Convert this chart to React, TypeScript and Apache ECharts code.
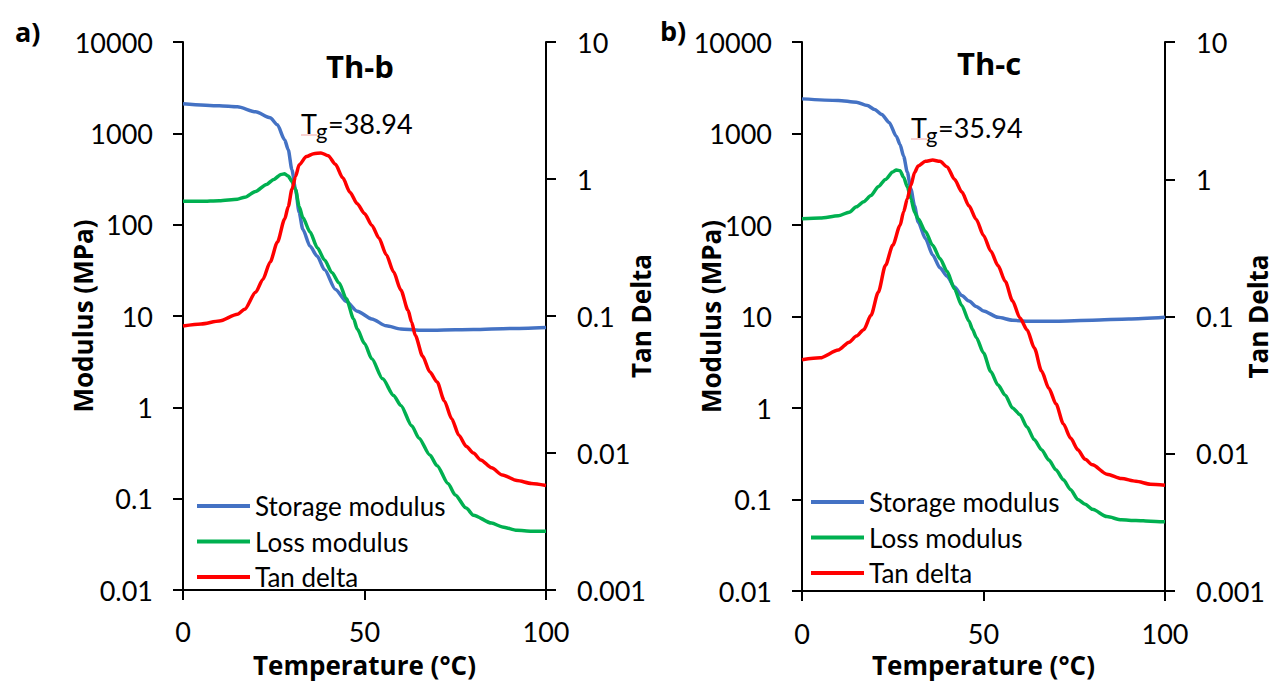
import React, { useEffect, useRef } from "react";
import * as echarts from "echarts";

// ---------- tick labels / names ----------
const modulusTicks = ["0.01", "0.1", "1", "10", "100", "1000", "10000"];
const tanTicks = ["0.001", "0.01", "0.1", "1", "10"];
const tempTicks = ["0", "50", "100"];
const seriesNames = ["Storage modulus", "Loss modulus", "Tan delta"];
const panelLabels = ["a)", "b)"];
const panelTitles = ["Th-b", "Th-c"];
const tgValues = ["=38.94", "=35.94"];

// ---------- panel a (Th-b) ----------
const aStorageT = [0, 10, 15, 20, 24, 26, 28, 29, 30, 31, 32, 33, 35, 37, 39, 42, 45, 48, 52, 56, 60, 65, 70, 80, 90, 100];
const aStorageV = [2110, 2000, 1950, 1720, 1480, 1240, 850, 660, 400, 243, 136, 89, 58, 45, 32, 19.5, 14.4, 11.3, 9.3, 7.8, 7.2, 7.0, 7.0, 7.1, 7.3, 7.5];

const aLossT = [0, 5, 10, 15, 17, 20, 23, 25, 27, 28, 29, 30, 31, 32, 33, 35, 37, 39, 41, 43, 45, 47, 48, 50, 52, 55, 58, 60, 63, 65, 68, 70, 73, 75, 78, 80, 85, 88, 92, 96, 100];
const aLossV = [180, 180, 183, 190, 200, 231, 276, 313, 355, 360, 340, 297, 243, 158, 120, 83, 56, 41, 30, 23, 15.4, 9.3, 7.2, 5.0, 3.4, 2.05, 1.35, 1.05, 0.63, 0.46, 0.30, 0.23, 0.147, 0.11, 0.079, 0.066, 0.054, 0.049, 0.045, 0.044, 0.044];

const aTanT = [0, 5, 10, 15, 17, 20, 22, 24, 26, 28, 29, 30, 31, 32, 34, 36, 38, 40, 42, 44, 46, 48, 50, 52, 54, 56, 58, 60, 62, 63, 64, 66, 68, 70, 72, 74, 76, 78, 80, 82, 85, 88, 92, 96, 100];
const aTanV = [0.0846, 0.0875, 0.092, 0.103, 0.112, 0.149, 0.185, 0.247, 0.346, 0.51, 0.63, 0.84, 1.04, 1.27, 1.46, 1.53, 1.55, 1.48, 1.28, 1.02, 0.8, 0.66, 0.56, 0.46, 0.37, 0.28, 0.21, 0.155, 0.11, 0.09, 0.072, 0.051, 0.039, 0.033, 0.024, 0.0178, 0.0135, 0.0112, 0.01, 0.0089, 0.0078, 0.0069, 0.0063, 0.006, 0.0058];

// ---------- panel b (Th-c) ----------
const bStorageT = [0, 10, 15, 18, 20, 22, 24, 26, 27, 28, 29, 30, 31, 32, 34, 36, 38, 40, 42, 44, 46, 48, 50, 54, 58, 62, 70, 80, 90, 100];
const bStorageV = [2390, 2300, 2200, 2020, 1830, 1610, 1320, 930, 760, 565, 380, 247, 162, 108, 71, 47, 34, 27.5, 21, 17, 14.8, 12.9, 11.5, 9.8, 9.1, 8.9, 8.9, 9.1, 9.4, 9.8];

const bLossT = [0, 5, 10, 13, 15, 17, 19, 21, 23, 25, 26, 27, 28, 29, 30, 31, 32, 34, 36, 38, 40, 42, 44, 46, 47, 48, 50, 52, 54, 56, 58, 60, 62, 64, 66, 68, 70, 72, 74, 76, 78, 80, 84, 88, 92, 96, 100];
const bLossV = [117, 119, 126, 138, 158, 180, 210, 262, 315, 380, 400, 392, 333, 262, 194, 138, 117, 85, 60, 43, 31, 20, 13.2, 8.9, 7.2, 5.9, 4.0, 2.5, 1.78, 1.38, 1.0, 0.85, 0.62, 0.45, 0.35, 0.27, 0.21, 0.164, 0.128, 0.1, 0.089, 0.078, 0.065, 0.06, 0.059, 0.058, 0.057];

const bTanT = [0, 5, 10, 13, 15, 17, 19, 21, 23, 25, 27, 28, 29, 30, 31, 32, 34, 36, 38, 40, 42, 44, 46, 48, 50, 52, 54, 56, 58, 60, 62, 64, 66, 68, 70, 72, 74, 76, 78, 80, 84, 88, 92, 96, 100];
const bTanV = [0.0484, 0.05, 0.057, 0.065, 0.072, 0.08, 0.102, 0.15, 0.236, 0.33, 0.46, 0.58, 0.72, 0.9, 1.12, 1.25, 1.35, 1.38, 1.35, 1.23, 1.0, 0.81, 0.64, 0.51, 0.39, 0.3, 0.235, 0.18, 0.13, 0.098, 0.08, 0.059, 0.04, 0.03, 0.023, 0.0165, 0.013, 0.0107, 0.0091, 0.0083, 0.0071, 0.0066, 0.0063, 0.006, 0.0059];

const COLORS = ["#4472C4", "#00B050", "#FF0000"];
const FONT = "Lato, 'Open Sans', sans-serif";
const BOLD_FONT = "'Open Sans', Lato, sans-serif";

const pairs = (t: number[], v: number[]) => t.map((x, i) => [x, v[i]]);

function logFormatter(labels: string[]) {
  return (v: number) => {
    const l = labels.find((s) => Math.abs(Math.log10(Number(s)) - Math.log10(v)) < 1e-6);
    return l ?? "";
  };
}

const nameStyle = { fontFamily: BOLD_FONT, fontWeight: "bold", fontSize: 26, color: "#000" };

function makeXAxis(gridIndex: number, margin: number, gap: number) {
  const min = Number(tempTicks[0]);
  const max = Number(tempTicks[tempTicks.length - 1]);
  const interval = Number(tempTicks[1]) - Number(tempTicks[0]);
  return {
    type: "value",
    gridIndex,
    min,
    max,
    interval,
    name: "Temperature (°C)",
    nameLocation: "middle",
    nameGap: gap,
    nameMoveOverlap: false,
    nameTextStyle: nameStyle,
    axisLine: { show: true, onZero: false, lineStyle: { color: "#000", width: 2 } },
    axisTick: { show: true, inside: false, length: 10, lineStyle: { color: "#000", width: 2 } },
    axisLabel: { margin, fontFamily: FONT, fontSize: 27, color: "#000" },
    splitLine: { show: false },
  };
}

function makeYAxis(
  gridIndex: number,
  position: "left" | "right",
  labels: string[],
  name: string,
  gap: number,
  margin: number
) {
  return {
    type: "log",
    logBase: 10,
    gridIndex,
    position,
    min: Number(labels[0]),
    max: Number(labels[labels.length - 1]),
    name,
    nameLocation: "middle",
    nameGap: gap,
    nameRotate: 90,
    nameMoveOverlap: false,
    nameTextStyle: nameStyle,
    axisLine: { show: true, onZero: false, lineStyle: { color: "#000", width: 2 } },
    axisTick: { show: true, inside: false, length: 10, lineStyle: { color: "#000", width: 2 } },
    axisLabel: { margin, fontFamily: FONT, fontSize: 27, color: "#000", formatter: logFormatter(labels) },
    splitLine: { show: false },
    minorTick: { show: false },
  };
}

function makeSeries(name: string, color: string, data: number[][], xi: number, yi: number) {
  return {
    type: "line",
    name,
    xAxisIndex: xi,
    yAxisIndex: yi,
    data,
    showSymbol: false,
    symbol: "none",
    smooth: 0.25,
    smoothMonotone: "x",
    color,
    lineStyle: { color, width: 3.5 },
    z: 3,
  };
}

function makeLegend(left: number, top: number) {
  return {
    orient: "vertical",
    left,
    top,
    padding: 0,
    data: seriesNames,
    icon: "rect",
    itemWidth: 53,
    itemHeight: 4,
    itemGap: 8.5,
    selectedMode: false,
    textStyle: { fontFamily: FONT, fontSize: 26, color: "#000", lineHeight: 27 },
  };
}

function tgGroup(x: number, midY: number, value: string) {
  return [
    {
      type: "text",
      left: x,
      top: midY - 14,
      style: { text: "T", fontFamily: FONT, fontSize: 27, fill: "#000" },
    },
    {
      type: "text",
      left: x + 15,
      top: midY - 5,
      style: { text: "g", fontFamily: FONT, fontSize: 22, fill: "#000" },
    },
    {
      type: "text",
      left: x + 27,
      top: midY - 14,
      style: { text: value, fontFamily: FONT, fontSize: 27, fill: "#000" },
    },
    {
      type: "line",
      shape: { x1: x, y1: midY + 11, x2: x + 16, y2: midY + 11 },
      style: { stroke: "#f2a3a3", lineWidth: 1 },
    },
  ];
}

export default function App() {
  const ref = useRef<HTMLDivElement>(null);

  useEffect(() => {
    if (!ref.current) return;
    const chart = echarts.init(ref.current, undefined, { renderer: "svg" });
    const option = {
      animation: false,
      backgroundColor: "#fff",
      textStyle: { fontFamily: FONT },
      grid: [
        { left: 183, top: 42, width: 363, height: 550, containLabel: false },
        { left: 802, top: 42, width: 363, height: 553, containLabel: false },
      ],
      xAxis: [makeXAxis(0, 28, 62), makeXAxis(1, 29, 61)],
      yAxis: [
        makeYAxis(0, "left", modulusTicks, "Modulus (MPa)", 87, 30),
        makeYAxis(0, "right", tanTicks, "Tan Delta", 82, 31),
        makeYAxis(1, "left", modulusTicks, "Modulus (MPa)", 78, 30),
        makeYAxis(1, "right", tanTicks, "Tan Delta", 80, 31),
      ],
      legend: [makeLegend(197, 492.5), makeLegend(811, 488.5)],
      series: [
        makeSeries(seriesNames[0], COLORS[0], pairs(aStorageT, aStorageV), 0, 0),
        makeSeries(seriesNames[1], COLORS[1], pairs(aLossT, aLossV), 0, 0),
        makeSeries(seriesNames[2], COLORS[2], pairs(aTanT, aTanV), 0, 1),
        makeSeries(seriesNames[0], COLORS[0], pairs(bStorageT, bStorageV), 1, 2),
        makeSeries(seriesNames[1], COLORS[1], pairs(bLossT, bLossV), 1, 2),
        makeSeries(seriesNames[2], COLORS[2], pairs(bTanT, bTanV), 1, 3),
      ],
      graphic: [
        {
          type: "text",
          left: 15,
          top: 18,
          style: { text: panelLabels[0], fontFamily: BOLD_FONT, fontWeight: "bold", fontSize: 27, fill: "#000" },
        },
        {
          type: "text",
          left: 660,
          top: 17,
          style: { text: panelLabels[1], fontFamily: BOLD_FONT, fontWeight: "bold", fontSize: 27, fill: "#000" },
        },
        {
          type: "text",
          left: 326,
          top: 50,
          style: { text: panelTitles[0], fontFamily: BOLD_FONT, fontWeight: "bold", fontSize: 31, fill: "#000" },
        },
        {
          type: "text",
          left: 957,
          top: 47,
          style: { text: panelTitles[1], fontFamily: BOLD_FONT, fontWeight: "bold", fontSize: 31, fill: "#000" },
        },
        ...tgGroup(301, 124, tgValues[0]),
        ...tgGroup(911, 128, tgValues[1]),
      ],
    };
    chart.setOption(option as any);
    return () => chart.dispose();
  }, []);

  return (
    <div
      ref={ref}
      style={{ position: "fixed", left: 0, top: 0, width: 1277, height: 683, background: "#fff" }}
    />
  );
}
